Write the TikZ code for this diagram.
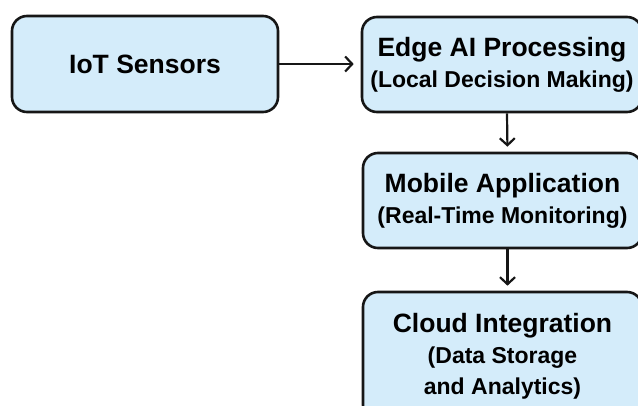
\documentclass[tikz,border=0pt]{standalone}
\usepackage{fontspec}
\setmainfont{Liberation Sans}
\usetikzlibrary{arrows.meta}
\definecolor{boxfill}{RGB}{212,236,250}
\definecolor{ink}{RGB}{22,22,22}
\newcommand\subline[1]{{\fontsize{23}{31}\selectfont #1}}
\begin{document}
\begin{tikzpicture}[x=1pt,y=-1pt,
  box/.style={draw=ink, fill=boxfill, line width=2.6pt, rounded corners=15pt,
    align=center, inner sep=0pt, font=\bfseries\fontsize{26.5}{31}\selectfont},
  flow/.style={draw=ink, line width=2.2pt,
    -{Straight Barb[length=7pt,width=15pt,line width=2.2pt]}}
]
\useasboundingbox (0,0) rectangle (638,405);
\clip (0,0) rectangle (638,405);
\node[box, minimum width=266pt, minimum height=96pt] (iot) at (145,64) {IoT Sensors};
\node[box, minimum width=280pt, minimum height=95pt] (edge) at (502,64.5)
  {Edge AI Processing\\ \subline{(Local Decision Making)}};
\node[box, minimum width=279pt, minimum height=95pt] (mobile) at (502.5,200.5)
  {Mobile Application\\ \subline{(Real-Time Monitoring)}};
\node[box, minimum width=279pt, minimum height=128pt] (cloud) at (502.5,356)
  {Cloud Integration\\ \subline{(Data Storage}\\ \subline{and Analytics)}};
\draw[flow, shorten >=7pt] (iot.east) -- (iot.east -| edge.west);
\draw[flow, shorten >=5pt] ([xshift=5pt]edge.south) -- ([xshift=5pt]mobile.north);
\draw[flow, shorten >=5pt] ([xshift=5pt]mobile.south) -- ([xshift=5pt]cloud.north);
\end{tikzpicture}
\end{document}
